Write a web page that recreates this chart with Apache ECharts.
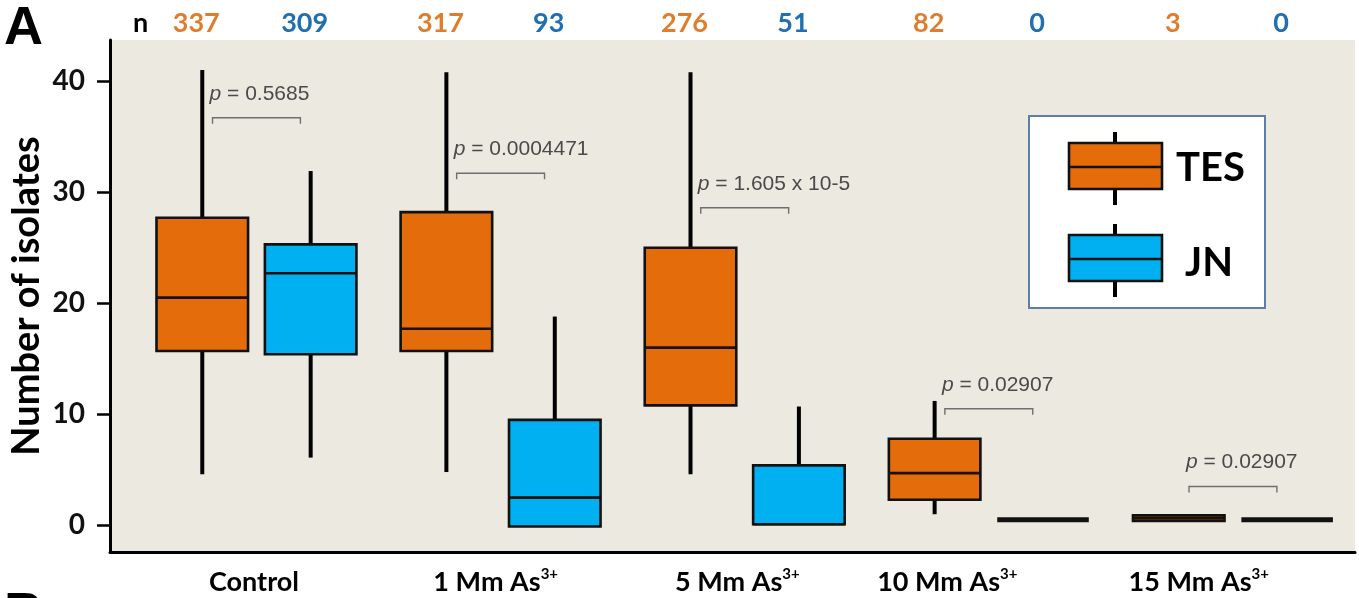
<!DOCTYPE html>
<html>
<head>
<meta charset="utf-8">
<script src="https://cdn.jsdelivr.net/npm/echarts@6/dist/echarts.min.js"></script>
<style>
  html, body { margin: 0; padding: 0; background: #ffffff; }
  #chart { width: 1359px; height: 598px; }
</style>
</head>
<body>
<div id="chart"></div>
<script>
// Arsenite treatments and the two sampling sites
const categories = ['Control', '1 Mm As', '5 Mm As', '10 Mm As', '15 Mm As'];
const categorySup = ['', '3+', '3+', '3+', '3+'];
const groupNames = ['TES', 'JN'];

// Box statistics per treatment: [min, Q1, median, Q3, max]
const tesStats = [
  [4.6, 15.7, 20.5, 27.7, 41.0],
  [4.8, 15.7, 17.7, 28.2, 40.8],
  [4.6, 10.8, 16.0, 25.0, 40.8],
  [1.0, 2.3, 4.7, 7.8, 11.2],
  [0.4, 0.4, 0.65, 0.9, 0.9]
];
const jnStats = [
  [6.1, 15.4, 22.7, 25.3, 31.9],
  [-0.1, -0.1, 2.5, 9.5, 18.8],
  [0.1, 0.1, 0.1, 5.4, 10.7],
  [0.5, 0.5, 0.5, 0.5, 0.5],
  [0.5, 0.5, 0.5, 0.5, 0.5]
];

// Sample sizes shown above each box
const tesCounts = [337, 317, 276, 82, 3];
const jnCounts = [309, 93, 51, 0, 0];

// Pairwise test results and the height of each comparison bracket
const pValues = ['0.5685', '0.0004471', '1.605 x 10-5', '0.02907', '0.02907'];
const bracketLevels = [36.7, 31.7, 28.6, 10.5, 3.5];

const yTicks = [0, 10, 20, 30, 40];

// ---- layout ----
const TES_COLOR = '#e46c0a';
const JN_COLOR = '#00b0f0';
const TES_TEXT = '#df7d2c';
const JN_TEXT = '#1f6fb2';
const BOX_OFFSET = 0.222;     // x distance of each box from the treatment centre
const BOX_WIDTH = 0.375;      // box width in x units
const LABEL_ANCHORS = [-0.01, 0.98, 1.97, 2.83, 3.86];
const LABEL_FONT = 'Lato, "Open Sans", sans-serif';
const P_FONT = '"Liberation Sans", Arial, sans-serif';

function boxData(stats, counts) {
  return stats.map((s, i) => [i].concat(s, [counts[i]]));
}

function makeBoxRenderer(offset, fill, textColor) {
  return function (params, api) {
    const i = api.value(0);
    const cx = api.coord([i + offset, 0])[0];
    const half = api.size([BOX_WIDTH, 0])[0] / 2;
    const y = k => api.coord([i, api.value(k)])[1];
    const vMin = api.value(1), vQ1 = api.value(2), vQ3 = api.value(4), vMax = api.value(5);
    const yMin = y(1), yQ1 = y(2), yMed = y(3), yQ3 = y(4), yMax = y(5);
    const children = [];
    const whisker = { stroke: '#000', lineWidth: 4 };
    if (vMax > vQ3) {
      children.push({ type: 'line', shape: { x1: cx, y1: yQ3, x2: cx, y2: yMax }, style: whisker });
    }
    if (vMin < vQ1) {
      children.push({ type: 'line', shape: { x1: cx, y1: yQ1, x2: cx, y2: yMin }, style: whisker });
    }
    if (vQ3 - vQ1 < 0.05) {
      children.push({ type: 'line', shape: { x1: cx - half, y1: yMed, x2: cx + half, y2: yMed },
        style: { stroke: '#111', lineWidth: 5 } });
    } else {
      children.push({ type: 'rect', shape: { x: cx - half, y: yQ3, width: half * 2, height: yQ1 - yQ3 },
        style: { fill: fill, stroke: '#111', lineWidth: 2.6 } });
      children.push({ type: 'line', shape: { x1: cx - half, y1: yMed, x2: cx + half, y2: yMed },
        style: { stroke: '#1a1108', lineWidth: 2.6 } });
    }
    // sample size above the plotting area
    children.push({
      type: 'text',
      x: cx - 6, y: params.coordSys.y - 17,
      style: { text: String(api.value(6)), fill: textColor, font: 'bold 27px ' + LABEL_FONT,
        align: 'center', verticalAlign: 'middle' }
    });
    return { type: 'group', children: children };
  };
}

function renderBracket(params, api) {
  const i = api.value(0);
  const level = api.value(1);
  const x1 = api.coord([i - 0.18, level])[0];
  const x2 = api.coord([i + 0.18, level])[0];
  const yb = api.coord([i, level])[1];
  const stroke = { stroke: '#6f6f6f', lineWidth: 1.4, fill: null };
  return {
    type: 'group',
    children: [
      { type: 'polyline', shape: { points: [[x1, yb + 6], [x1, yb], [x2, yb], [x2, yb + 6]] }, style: stroke },
      {
        type: 'text', x: x1 - 3, y: yb - 24,
        style: {
          text: '{i|p} = ' + pValues[i],
          fill: '#4a4a4a', font: '21px ' + P_FONT,
          align: 'left', verticalAlign: 'middle',
          rich: { i: { fontStyle: 'italic', fontSize: 21, fontFamily: P_FONT, fill: '#4a4a4a' } }
        }
      }
    ]
  };
}

const chart = echarts.init(document.getElementById('chart'), null, { renderer: 'canvas' });

// legend panel with box-plot glyphs
function legendGlyph(top, fill, medY) {
  return [
    { type: 'line', shape: { x1: 1115, y1: top - 11, x2: 1115, y2: top + 62 }, style: { stroke: '#000', lineWidth: 4 } },
    { type: 'rect', shape: { x: 1069, y: top, width: 93, height: 46 }, style: { fill: fill, stroke: '#111', lineWidth: 2.6 } },
    { type: 'line', shape: { x1: 1069, y1: medY, x2: 1162, y2: medY }, style: { stroke: '#111', lineWidth: 2.6 } }
  ];
}

const legendParts = [
  { type: 'rect', shape: { x: 1029, y: 116, width: 236, height: 192 }, style: { fill: '#ffffff', stroke: '#5d7fa6', lineWidth: 2 } }
].concat(legendGlyph(143, TES_COLOR, 167), legendGlyph(235, JN_COLOR, 259), [
  { type: 'text', x: 1176, y: 168, style: { text: groupNames[0], font: 'bold 40px ' + LABEL_FONT, fill: '#000', verticalAlign: 'middle' } },
  { type: 'text', x: 1185, y: 263, style: { text: groupNames[1], font: 'bold 40px ' + LABEL_FONT, fill: '#000', verticalAlign: 'middle' } }
]);

const option = {
  backgroundColor: '#ffffff',
  animation: false,
  grid: {
    left: 110, right: 4, top: 40, bottom: 46,
    containLabel: false, outerBoundsMode: 'none',
    show: true, backgroundColor: '#ece9e0', borderWidth: 0
  },
  xAxis: {
    type: 'value', min: -0.6, max: 4.5,
    axisLine: { onZero: false, lineStyle: { color: '#000', width: 3 } },
    axisTick: { show: false },
    splitLine: { show: false },
    axisLabel: {
      customValues: LABEL_ANCHORS,
      margin: 15,
      color: '#000',
      formatter: function (v) {
        const k = LABEL_ANCHORS.indexOf(v);
        if (k < 0) return '';
        return '{b|' + categories[k] + '}' + (categorySup[k] ? '{s|' + categorySup[k] + '}' : '');
      },
      rich: {
        b: { fontFamily: LABEL_FONT, fontWeight: 'bold', fontSize: 27, color: '#000', lineHeight: 30 },
        s: { fontFamily: LABEL_FONT, fontWeight: 'bold', fontSize: 15, color: '#000', verticalAlign: 'top', lineHeight: 14 }
      }
    }
  },
  yAxis: {
    type: 'value', min: -2.4, max: 43.7,
    name: 'Number of isolates',
    nameLocation: 'middle',
    nameGap: 64,
    nameRotate: 90,
    nameMoveOverlap: false,
    nameTextStyle: { fontFamily: LABEL_FONT, fontWeight: 'bold', fontSize: 38, color: '#000' },
    axisLine: { show: true, onZero: false, lineStyle: { color: '#000', width: 3 } },
    axisTick: { show: true, customValues: yTicks, length: 13, lineStyle: { color: '#000', width: 2.5 } },
    axisLabel: { customValues: yTicks, margin: 25, fontFamily: LABEL_FONT, fontWeight: 'bold', fontSize: 28, color: '#111' },
    splitLine: { show: false }
  },
  series: [
    {
      name: groupNames[0], type: 'custom', clip: false,
      renderItem: makeBoxRenderer(-BOX_OFFSET, TES_COLOR, TES_TEXT),
      encode: { x: 0, y: [1, 2, 3, 4, 5] },
      data: boxData(tesStats, tesCounts)
    },
    {
      name: groupNames[1], type: 'custom', clip: false,
      renderItem: makeBoxRenderer(BOX_OFFSET, JN_COLOR, JN_TEXT),
      encode: { x: 0, y: [1, 2, 3, 4, 5] },
      data: boxData(jnStats, jnCounts)
    },
    {
      name: 'p', type: 'custom', clip: false,
      renderItem: renderBracket,
      encode: { x: 0, y: 1 },
      data: bracketLevels.map((lv, i) => [i, lv])
    }
  ],
  graphic: [
    { type: 'text', x: 4, y: 2, style: { text: 'A', font: 'bold 54px "Liberation Sans", Arial, sans-serif', fill: '#000' } },
    { type: 'text', x: 4, y: 588, style: { text: 'B', font: 'bold 54px "Liberation Sans", Arial, sans-serif', fill: '#000' } },
    { type: 'text', x: 133, y: 10, style: { text: 'n', font: 'bold 27px ' + LABEL_FONT, fill: '#000' } },
    { type: 'group', children: legendParts }
  ]
};

chart.setOption(option);
</script>
</body>
</html>
